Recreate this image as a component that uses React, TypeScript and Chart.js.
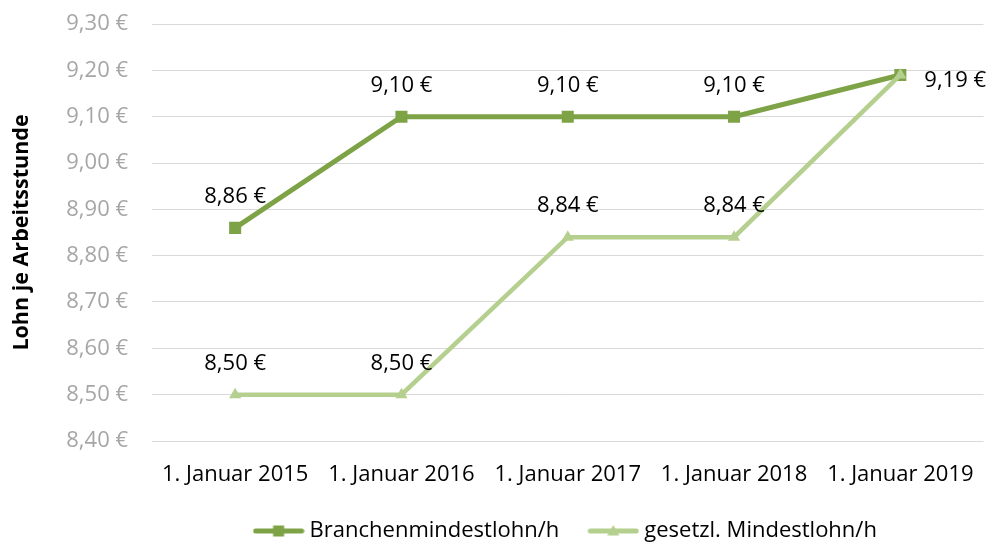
import React, { useEffect, useRef } from 'react';
import { Chart, registerables } from 'chart.js';

Chart.register(...registerables);

const categories = ['1. Januar 2015', '1. Januar 2016', '1. Januar 2017', '1. Januar 2018', '1. Januar 2019'];
const branchenValues = [8.86, 9.1, 9.1, 9.1, 9.19];
const gesetzlValues = [8.5, 8.5, 8.84, 8.84, 9.19];
const seriesNames = ['Branchenmindestlohn/h', 'gesetzl. Mindestlohn/h'];
const branchenLabelPos = ['top', 'top', 'top', 'top', 'right'];
const gesetzlLabelPos = ['top', 'top', 'top', 'top', 'none'];
const yMin = 8.4;
const yMax = 9.3;
const yStep = 0.1;
const yTitle = 'Lohn je Arbeitsstunde';

const DARK = '#7EA346';
const LIGHT = '#B5CF8F';
const FONT = '"Open Sans", sans-serif';

function fmt(v: number): string {
  return v.toFixed(2).replace('.', ',') + ' €';
}

function legendIcon(color: string, style: 'rect' | 'triangle'): HTMLCanvasElement {
  const c = document.createElement('canvas');
  c.width = 52;
  c.height = 14;
  const ctx = c.getContext('2d')!;
  ctx.strokeStyle = color;
  ctx.lineWidth = 5;
  ctx.lineCap = 'round';
  ctx.beginPath();
  ctx.moveTo(3, 7);
  ctx.lineTo(49, 7);
  ctx.stroke();
  ctx.fillStyle = color;
  if (style === 'rect') {
    ctx.fillRect(20.5, 1.5, 11, 11);
  } else {
    ctx.beginPath();
    ctx.moveTo(26, 1);
    ctx.lineTo(32, 11.5);
    ctx.lineTo(20, 11.5);
    ctx.closePath();
    ctx.fill();
  }
  return c;
}

const valueLabels = {
  id: 'valueLabels',
  afterDatasetsDraw(chart: any) {
    const ctx = chart.ctx;
    chart.data.datasets.forEach((ds: any, di: number) => {
      const meta = chart.getDatasetMeta(di);
      const pos: string[] = ds.labelPositions || [];
      meta.data.forEach((pt: any, i: number) => {
        const p = pos[i];
        if (!p || p === 'none') return;
        const v = ds.data[i] as number;
        ctx.save();
        ctx.font = `22px ${FONT}`;
        ctx.fillStyle = '#000000';
        ctx.textBaseline = 'middle';
        if (p === 'right') {
          ctx.textAlign = 'left';
          ctx.fillText(fmt(v), pt.x + 24, pt.y + 6);
        } else {
          ctx.textAlign = 'center';
          ctx.fillText(fmt(v), pt.x, pt.y - 31);
        }
        ctx.restore();
      });
    });
  },
};

export default function App() {
  const ref = useRef<HTMLCanvasElement>(null);

  useEffect(() => {
    if (!ref.current) return;
    const icons = [legendIcon(DARK, 'rect'), legendIcon(LIGHT, 'triangle')];
    const chart = new Chart(ref.current, {
      type: 'line',
      data: {
        labels: categories,
        datasets: [
          {
            label: seriesNames[0],
            data: branchenValues,
            borderColor: DARK,
            backgroundColor: DARK,
            borderWidth: 5,
            pointStyle: 'rect',
            pointRadius: 8.5,
            pointBorderWidth: 0,
            pointBackgroundColor: DARK,
            order: 1,
            labelPositions: branchenLabelPos,
          } as any,
          {
            label: seriesNames[1],
            data: gesetzlValues,
            borderColor: LIGHT,
            backgroundColor: LIGHT,
            borderWidth: 4.5,
            pointStyle: 'triangle',
            pointRadius: 7,
            pointBorderWidth: 0,
            pointBackgroundColor: LIGHT,
            order: 0,
            labelPositions: gesetzlLabelPos,
          } as any,
        ],
      },
      options: {
        responsive: false,
        animation: false,
        devicePixelRatio: 1,
        layout: { padding: { top: 24, right: 8, left: 0, bottom: -5 } },
        scales: {
          x: {
            offset: true,
            grid: { display: false, drawTicks: false },
            border: { display: false },
            ticks: { color: '#000000', font: { family: FONT, size: 22 }, padding: 21, maxRotation: 0, autoSkip: false },
            afterFit: (s: any) => {
              s.height = 45;
              s.paddingLeft = 0;
              s.paddingRight = 0;
              s.paddingTop = 0;
              s.paddingBottom = 0;
            },
          },
          y: {
            min: yMin,
            max: yMax,
            grid: { color: '#D9D9D9', lineWidth: 1, drawTicks: false },
            border: { display: false },
            ticks: {
              stepSize: yStep,
              color: '#A6A6A6',
              font: { family: FONT, size: 22 },
              padding: 24,
              callback: (v: any) => fmt(Number(v)),
            },
            title: {
              display: true,
              text: yTitle,
              color: '#000000',
              font: { family: FONT, size: 21.5, weight: 'bold' },
              padding: { top: 9, bottom: 0 },
            },
            afterFit: (s: any) => {
              s.width = 152;
              s.paddingTop = 0;
              s.paddingBottom = 0;
              s.paddingLeft = 0;
              s.paddingRight = 0;
            },
          },
        },
        plugins: {
          tooltip: { enabled: false },
          legend: {
            position: 'bottom',
            fullSize: false,
            labels: {
              usePointStyle: true,
              pointStyleWidth: 40,
              padding: 34,
              color: '#000000',
              font: { family: FONT, size: 22 },
              generateLabels: () =>
                seriesNames.map((name, i) => ({
                  text: name,
                  pointStyle: icons[i],
                  datasetIndex: i,
                  hidden: false,
                  fillStyle: 'transparent',
                  strokeStyle: 'transparent',
                  lineWidth: 0,
                  fontColor: '#000000',
                })),
            },
          },
        },
      } as any,
      plugins: [valueLabels],
    });
    return () => chart.destroy();
  }, []);

  return (
    <div style={{ position: 'absolute', left: 0, top: 0, width: 992, height: 547, background: '#ffffff' }}>
      <canvas ref={ref} width={992} height={547} style={{ display: 'block' }} />
    </div>
  );
}
